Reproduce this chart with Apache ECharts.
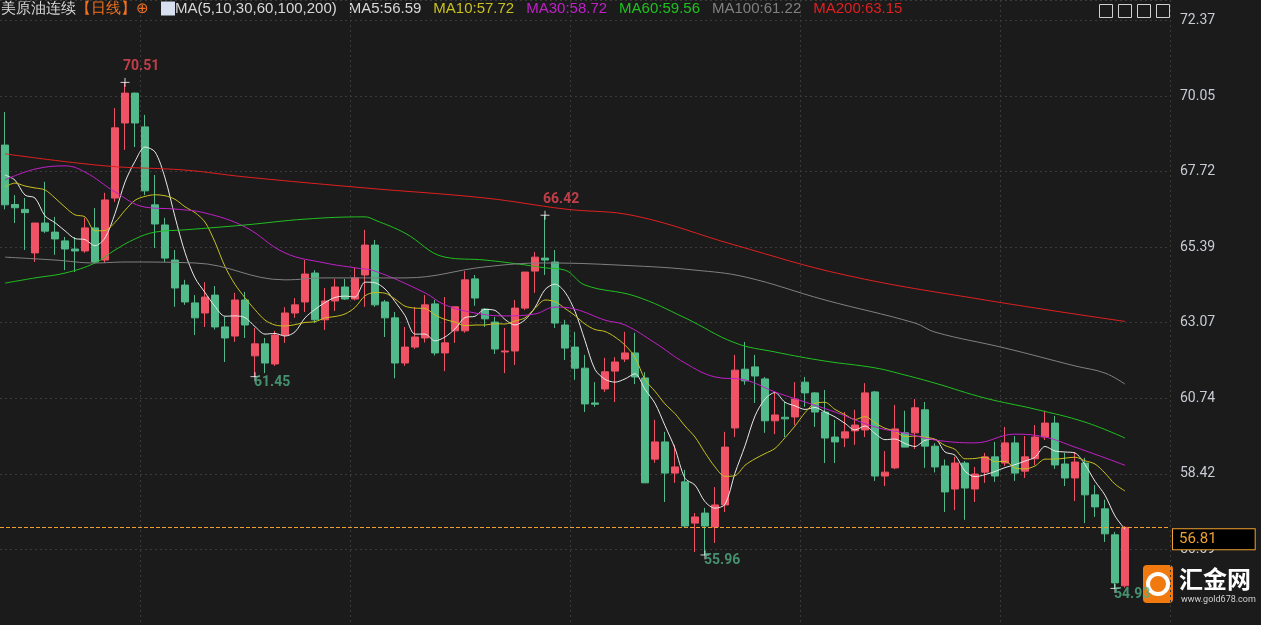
<!DOCTYPE html>
<html><head><meta charset="utf-8">
<script src="https://cdn.jsdelivr.net/npm/echarts@6/dist/echarts.min.js"></script>
<style>html,body{margin:0;padding:0;background:#1b1b1b}#c{width:1261px;height:625px}</style>
</head><body><div id="c"></div>
<script>
// OHLC per trading day
const opens=[68.58,66.75,66.60,65.26,66.18,65.90,65.63,65.38,65.32,66.03,65.04,66.95,69.26,70.18,69.14,66.74,66.12,65.04,64.27,63.72,63.41,63.96,62.98,62.70,63.81,62.09,62.46,61.84,62.73,63.41,63.75,64.64,63.20,63.78,64.21,63.84,64.58,65.50,63.75,63.26,61.87,62.36,62.64,63.69,62.18,62.86,62.86,64.46,63.53,63.13,62.21,62.24,63.56,64.70,65.10,64.98,63.04,62.36,61.71,60.64,61.07,61.62,61.99,62.18,61.41,58.91,59.44,58.48,58.21,56.94,57.25,56.82,57.50,59.87,61.68,61.75,61.38,60.09,60.20,60.21,61.28,60.95,60.36,59.59,59.56,59.78,59.81,60.98,58.39,58.64,59.72,59.72,60.43,59.31,58.70,57.99,58.79,57.99,58.51,58.98,58.79,59.41,58.54,58.92,59.59,60.02,58.76,58.33,58.79,57.81,57.38,56.58,55.01];
const closes=[66.74,66.65,66.50,66.18,65.93,65.69,65.38,65.32,66.03,64.98,66.89,69.11,70.18,69.26,67.17,66.15,65.10,64.18,63.75,63.26,63.90,62.98,62.64,63.81,63.04,62.46,61.87,62.73,63.41,63.66,64.61,63.20,63.78,64.21,63.84,64.49,65.50,63.66,63.26,61.87,62.36,62.67,63.66,62.18,62.49,63.60,64.43,63.87,63.23,62.30,62.24,63.56,64.67,65.13,65.04,63.10,62.33,61.71,60.61,60.60,61.60,61.90,62.18,61.44,58.18,59.44,58.48,58.67,56.85,57.13,56.85,57.50,59.28,61.65,61.32,61.47,60.09,60.27,60.15,60.76,60.95,60.36,59.56,59.44,59.75,59.96,60.95,58.39,58.51,59.84,59.28,60.49,59.31,58.67,57.90,58.79,58.02,58.45,58.98,58.39,59.41,58.48,58.98,59.59,60.02,58.73,58.33,58.82,57.81,57.44,56.61,55.10,56.81];
const lows=[66.60,66.18,65.35,64.98,65.87,65.20,64.73,64.67,65.26,64.95,64.95,66.83,68.43,68.52,67.04,65.41,64.98,63.60,63.66,62.73,62.98,62.90,61.90,62.52,62.64,61.45,61.56,61.78,62.49,63.26,63.44,63.10,62.89,63.47,63.81,63.80,63.60,63.60,62.67,61.40,61.78,62.30,62.50,62.10,61.62,62.49,62.80,63.63,62.98,62.15,61.56,61.81,63.50,64.03,64.58,62.95,61.96,61.35,60.36,60.52,60.98,60.67,61.90,61.22,58.18,58.80,57.59,58.18,56.80,56.05,55.96,56.33,57.28,59.59,61.20,60.64,59.72,59.68,59.59,59.96,60.52,59.90,58.79,58.79,59.28,59.35,59.59,58.24,58.08,58.60,59.28,59.22,58.64,58.50,57.28,57.34,57.04,57.59,58.18,58.21,58.70,58.24,58.33,58.73,59.50,58.61,58.08,57.62,56.94,57.13,56.36,54.93,54.95];
const highs=[69.60,67.04,66.95,66.18,67.45,66.37,65.75,65.75,66.34,66.64,67.11,69.72,70.51,70.20,69.51,67.66,66.34,65.35,64.43,63.96,64.36,64.24,63.29,64.03,64.06,62.95,62.64,62.86,63.59,63.87,65.04,64.73,64.18,64.46,64.46,64.80,65.97,65.66,63.81,63.44,62.98,63.59,63.96,63.81,63.90,63.60,64.70,64.58,63.56,63.29,62.95,63.81,64.67,65.29,66.42,65.35,63.20,62.83,62.12,61.28,62.03,62.05,62.83,62.80,61.59,60.12,59.75,59.35,58.58,57.25,57.41,58.05,59.75,62.12,62.52,62.12,61.44,60.98,60.67,61.28,61.44,60.98,61.04,60.12,60.36,60.43,61.25,61.01,59.16,60.58,60.40,60.76,60.67,59.40,58.90,58.98,58.85,58.67,59.10,59.44,59.90,59.62,59.62,59.96,60.40,60.24,59.10,59.13,58.95,58.11,57.66,56.67,56.85];
// MA5/MA10 first values before enough history
const ma5Lead=[67.66,67.50,67.04,66.95];
const ma10Lead=[67.29,67.41,67.32,67.26,67.20,66.95,66.67,66.43,66.37];
// sampled long MAs: [index, value]
const ma30Pts=[[0,67.51],[3,67.84],[6,67.94],[8,67.75],[11,67.14],[14,66.67],[17,66.61],[20,66.49],[24,66.06],[28,65.26],[32,64.95],[35,64.80],[37,64.70],[42,64.03],[44,63.66],[47,63.41],[50,63.32],[53,63.38],[55,63.59],[57,63.53],[60,63.19],[62,63.04],[65,62.49],[68,61.87],[71,61.44],[74,61.35],[77,60.98],[80,60.67],[83,60.36],[87,59.90],[90,59.71],[93,59.50],[97,59.41],[101,59.68],[104,59.59],[107,59.28],[110,58.95],[112,58.72]];
const ma60Pts=[[0,64.33],[3,64.49],[6,64.64],[9,64.95],[11,65.35],[13,65.69],[15,65.90],[18,65.97],[24,66.12],[30,66.30],[36,66.37],[37,66.27],[40,65.87],[44,65.13],[48,65.04],[52,64.89],[54,64.80],[56,64.73],[58,64.27],[63,63.93],[68,63.26],[73,62.49],[77,62.21],[82,61.93],[87,61.72],[90,61.50],[93,61.25],[98,60.79],[103,60.45],[108,60.05],[112,59.56]];
const ma100Pts=[[0,65.13],[5,65.04],[9,64.95],[12,64.98],[19,64.95],[28,64.43],[32,64.49],[40,64.49],[48,64.83],[54,64.95],[63,64.86],[69,64.73],[74,64.52],[82,63.81],[91,63.10],[93,62.82],[100,62.33],[107,61.78],[110,61.56],[112,61.22]];
const ma200Pts=[[0,68.31],[10,67.94],[18,67.81],[24,67.60],[36,67.26],[48,66.95],[56,66.61],[63,66.40],[73,65.50],[84,64.58],[98,63.81],[112,63.15]];
const yTicks=[56.09,58.42,60.74,63.07,65.39,67.72,70.05,72.37];
const extremes=[{i:12,v:70.51,t:'70.51',hi:true},{i:25,v:61.45,t:'61.45',hi:false},{i:54,v:66.42,t:'66.42',hi:true},{i:70,v:55.96,t:'55.96',hi:false},{i:111,v:54.93,t:'54.93',hi:false}];
const monthIdx=[14,35,57,80,100];

const N=opens.length, SLOTS=117;
const cats=[];for(let i=0;i<SLOTS;i++)cats.push(String(i));
const kdata=opens.map((o,i)=>[o,closes[i],lows[i],highs[i]]);
function ma(n,lead){const r=[];for(let i=0;i<N;i++){if(i<n-1){r.push(lead[i]);continue;}let s=0;for(let j=i-n+1;j<=i;j++)s+=closes[j];r.push(+(s/n).toFixed(2));}return r;}
function sparse(p){const r=new Array(N).fill(null);p.forEach(([i,v])=>r[i]=v);return r;}
const UP='#ef5365',DN='#52b98a',ORG='#f0a030';
const base=51.43667, step=2.32667;
const yMin=53.803,yMax=73.047;
function line(name,data,color,smooth){return {name,type:'line',data,symbol:'none',connectNulls:true,smooth:smooth,lineStyle:{width:1,color},itemStyle:{color},z:3,silent:true};}
const last=line('LAST',new Array(N).fill(null),ORG,false);
last.markLine={symbol:'none',silent:true,animation:false,
  lineStyle:{color:ORG,type:'dashed',width:1,opacity:1},
  emphasis:{disabled:true},
  data:[{yAxis:closes[N-1],lineStyle:{color:ORG,type:'dashed',width:1},itemStyle:{color:ORG}}],
  label:{show:true,position:'end',distance:3,formatter:closes[N-1].toFixed(2),color:ORG,fontSize:15,fontFamily:'Roboto',backgroundColor:'#000',borderColor:ORG,borderWidth:1,padding:[3,38,2,6],offset:[0,12]}};
const chart=echarts.init(document.getElementById('c'));
chart.setOption({
 backgroundColor:'#1b1b1b',animation:false,
 grid:{left:0,top:0,bottom:0,right:1261-1170},
 xAxis:{type:'category',data:cats,boundaryGap:true,axisLine:{show:false},axisTick:{show:false},axisLabel:{show:false},
   splitLine:{show:true,interval:(i)=>monthIdx.includes(i),lineStyle:{color:'#3a3a3a',type:[2,3]}}},
 yAxis:[{type:'value',min:yMin,max:yMax,position:'right',axisLine:{show:false},axisTick:{show:false},axisLabel:{show:false},splitLine:{show:false}},
   {type:'value',min:yMin-base,max:yMax-base,interval:step,position:'right',axisLine:{show:false},axisTick:{show:false},
    axisLabel:{showMinLabel:false,showMaxLabel:false,color:'#c9ccd4',fontSize:14,fontFamily:'Roboto',margin:10,
      formatter:v=>{const p=v+base;let b=yTicks[0];yTicks.forEach(t=>{if(Math.abs(t-p)<Math.abs(b-p))b=t;});return b.toFixed(2);}},
    splitLine:{show:true,lineStyle:{color:'#3a3a3a',type:[2,3]}}}],
 series:[
  {type:'candlestick',data:kdata,barWidth:8,itemStyle:{color:UP,color0:DN,borderColor:UP,borderColor0:DN,borderWidth:1},z:2},
  line('MA5',ma(5,ma5Lead),'#e8e8e8',0.3),
  line('MA10',ma(10,ma10Lead),'#c8c020',0.3),
  line('MA30',sparse(ma30Pts),'#c020c8',0.4),
  line('MA60',sparse(ma60Pts),'#20c020',0.4),
  line('MA100',sparse(ma100Pts),'#808080',0.4),
  line('MA200',sparse(ma200Pts),'#e02020',0.4),
  last,
  {type:'scatter',data:extremes.map(e=>({value:[e.i,e.v],label:{show:true,formatter:e.t,position:e.hi?[5,-16]:[6,6],color:e.hi?'#e84855':'#4fae84',fontSize:14,fontWeight:'bold',fontFamily:'Roboto'}})),
   symbol:'path://M0,5H10M5,0V10',symbolSize:9,itemStyle:{color:'none',borderColor:'#ffffff',borderWidth:1},z:5,silent:true}
 ],
 graphic:[
  {type:'text',left:1,top:1,style:{text:'{w|美原油连续}{o|【日线】}{o|⊕}{s| }{i| }{w|MA(5,10,30,60,100,200)}{s| }{w|MA5:56.59}{s| }{y|MA10:57.72}{s| }{m|MA30:58.72}{s| }{g|MA60:59.56}{s| }{gr|MA100:61.22}{s| }{r|MA200:63.15}',
   font:'15px "Noto Sans CJK SC"',
   rich:{s:{width:12},w:{fill:'#d8d8d8',fontSize:15},o:{fill:'#f07020',fontSize:15},i:{width:14,height:14,backgroundColor:'#d8e0f0'},y:{fill:'#c8c020',fontSize:15},m:{fill:'#c020c8',fontSize:15},g:{fill:'#20c020',fontSize:15},gr:{fill:'#808080',fontSize:15},r:{fill:'#e02020',fontSize:15}}}},
  {type:'group',left:1097,top:2,children:[0,1,2,3].map(k=>({type:'rect',shape:{x:k*19,y:0,width:13,height:13},style:{fill:'none',stroke:'#cfcfcf',lineWidth:1}}))},
  {type:'group',left:1143,top:565,children:[
   {type:'rect',shape:{x:0,y:0,width:30,height:38,r:4},style:{fill:'#f07a10'}},
   {type:'circle',shape:{cx:15,cy:19,r:10},style:{fill:'none',stroke:'#fff',lineWidth:4}},
   {type:'text',x:36,y:2,style:{text:'汇金网',fill:'#ffffff',font:'bold 24px "Noto Sans CJK SC"'}},
   {type:'text',x:38,y:30,style:{text:'www.gold678.com',fill:'#d0d0d0',font:'9px Roboto'}}]}
 ]
});
</script></body></html>
